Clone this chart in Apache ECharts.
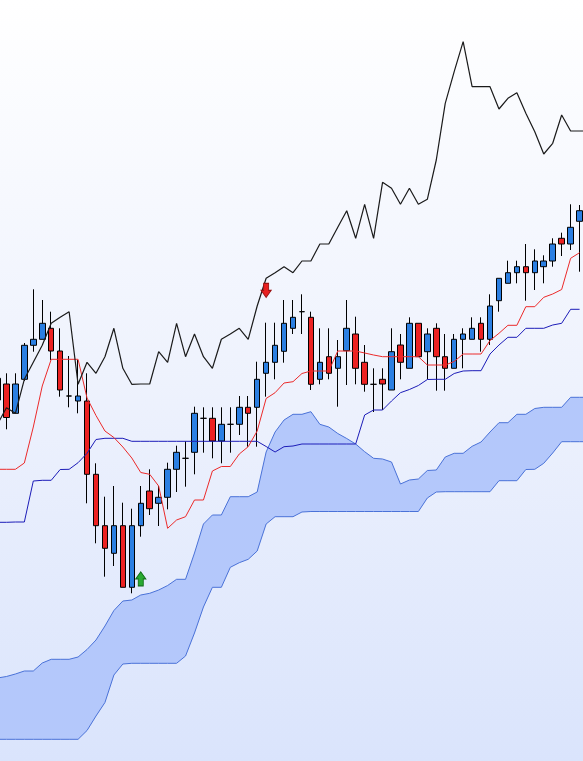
<!DOCTYPE html>
<html>
<head>
<meta charset="utf-8">
<script src="https://cdn.jsdelivr.net/npm/echarts@6/dist/echarts.min.js"></script>
<style>
html,body{margin:0;padding:0;width:583px;height:761px;overflow:hidden;position:relative;}
#c{position:absolute;left:-7px;top:0;width:600px;height:761px;}
</style>
</head>
<body>
<div id="c"></div>
<script>
// index categories (one per bar, the last one is a forward-only slot)
const categories = [];
for (let i = 0; i < 67; i++) categories.push(String(i + 1));

// [open, close, low, high]
const candles = [
[40.00,42.17,39.50,42.80],
[41.60,38.25,37.07,42.67],
[38.67,41.60,38.67,42.67],
[42.07,45.47,41.90,45.70],
[45.47,46.07,44.83,51.07],
[46.07,47.67,46.07,50.00],
[47.17,44.90,44.00,48.83],
[44.90,41.00,40.33,47.17],
[40.40,40.40,39.27,44.40],
[39.90,40.40,38.67,44.00],
[39.90,32.57,29.67,42.67],
[32.57,27.43,25.67,33.67],
[27.43,25.17,22.33,30.33],
[24.67,27.43,23.40,31.40],
[27.43,21.27,21.27,29.73],
[21.27,27.43,20.67,29.13],
[27.43,29.67,26.33,31.40],
[30.90,29.13,28.50,33.07],
[29.67,30.27,27.40,31.40],
[30.27,33.07,29.07,33.73],
[33.07,34.77,30.80,35.43],
[34.17,34.17,31.33,35.87],
[34.77,38.67,32.57,39.33],
[38.17,38.17,34.73,39.27],
[38.17,35.90,34.17,39.27],
[35.90,37.57,33.67,39.27],
[37.57,37.57,34.73,39.27],
[37.57,39.27,36.50,40.40],
[39.27,38.67,35.33,40.40],
[39.27,42.07,35.33,43.83],
[42.67,43.77,40.33,47.73],
[43.77,45.47,42.07,47.73],
[44.87,47.67,43.73,50.00],
[47.17,48.27,46.60,50.00],
[48.83,48.83,46.60,50.57],
[48.27,41.57,41.00,48.83],
[42.07,43.77,41.57,47.17],
[44.33,42.67,42.07,47.17],
[43.17,44.33,39.33,46.00],
[44.93,47.17,41.50,50.00],
[46.60,43.17,41.57,48.33],
[43.77,41.57,40.83,45.50],
[41.57,41.57,38.80,43.17],
[42.07,41.60,39.00,43.17],
[41.00,44.83,41.00,47.17],
[45.50,43.77,42.07,46.60],
[43.17,47.67,43.17,48.27],
[47.67,44.33,44.33,47.67],
[44.83,46.60,42.07,47.17],
[47.17,44.33,40.93,47.67],
[44.33,43.17,40.93,46.60],
[43.17,46.07,43.17,46.60],
[46.07,46.60,43.17,47.17],
[46.07,47.17,46.07,48.27],
[47.67,46.07,44.83,48.27],
[46.07,49.40,45.50,50.57],
[49.93,52.17,48.83,52.17],
[51.67,52.73,51.67,53.93],
[52.73,53.33,51.67,53.93],
[53.33,52.73,49.93,55.60],
[52.73,53.90,51.00,55.07],
[53.33,53.90,51.67,54.47],
[53.90,55.60,53.33,56.17],
[56.17,55.60,54.40,56.73],
[55.60,57.27,55.00,59.57],
[57.87,58.93,52.83,59.50],
'-'
];

const tenkan = [
33.07,33.07,33.07,33.70,37.30,41.40,44.07,44.07,44.07,44.07,
40.20,38.45,36.90,36.25,35.30,34.20,32.75,32.57,31.40,27.17,
28.00,28.33,30.00,30.00,32.90,33.35,33.35,34.60,35.33,36.90,
40.15,40.73,41.70,41.83,42.65,42.90,42.90,42.90,44.90,44.90,
44.90,44.70,44.50,44.33,44.33,44.33,44.33,44.33,43.50,43.50,
43.50,43.85,44.60,44.60,44.60,45.95,46.67,47.47,47.47,49.33,
49.33,50.27,50.60,51.05,54.17,54.73,null
];

const kijun = [
27.77,27.77,27.80,27.80,31.90,31.97,31.97,33.05,33.07,33.73,
34.67,36.05,36.17,36.17,36.17,35.87,35.87,35.87,35.87,35.87,
35.87,35.87,35.87,35.87,35.87,35.87,35.87,35.87,35.87,35.87,
35.35,34.80,35.33,35.40,35.60,35.60,35.60,35.60,35.60,35.60,
35.60,38.50,39.00,39.00,39.90,40.73,41.05,41.45,42.05,42.07,
42.07,42.65,42.90,42.93,42.93,44.60,45.50,46.27,46.27,47.17,
47.17,47.17,47.50,47.67,49.07,49.07,null
];

const chikou = [
37.57,39.23,38.67,42.07,43.77,45.47,47.67,48.27,48.83,41.57,
43.77,42.67,44.33,47.17,43.17,41.57,41.60,41.60,44.83,43.77,
47.67,44.33,46.60,44.33,43.17,46.07,46.60,47.17,46.07,49.40,
52.17,52.73,53.33,52.73,53.90,53.90,55.60,55.60,57.27,58.93,
56.17,59.57,56.17,61.77,61.17,59.57,61.17,59.57,60.07,64.00,
69.67,72.83,75.83,71.33,71.33,71.33,69.10,70.17,70.73,68.67,
66.83,64.60,65.67,68.50,66.90,66.90,66.90
];

const spanUpper = [
12.20,12.35,12.60,12.90,12.90,13.70,14.07,14.07,14.07,14.30,
15.05,16.00,17.40,18.95,19.90,20.00,20.50,20.67,21.00,21.45,
22.07,22.07,24.70,27.60,28.50,28.50,30.33,30.33,30.33,30.80,
34.80,36.80,38.00,38.57,38.57,38.83,37.57,37.30,36.65,36.15,
35.60,34.83,34.17,34.10,33.80,31.60,32.00,32.10,32.95,33.00,
34.30,34.67,34.67,35.37,35.80,36.80,37.73,37.73,38.57,38.57,
39.15,39.27,39.27,39.27,40.27,40.27,40.27
];

const spanLower = [
6.07,6.07,6.07,6.07,6.07,6.07,6.07,6.07,6.07,6.07,
6.95,8.40,9.75,12.50,13.60,13.67,13.67,13.67,13.67,13.67,
13.67,14.40,16.70,19.30,21.27,21.27,23.27,23.73,24.07,24.90,
27.60,28.33,28.33,28.33,28.80,28.85,28.85,28.85,28.85,28.85,
28.85,28.85,28.85,28.85,28.85,28.85,28.85,28.85,30.20,30.80,
30.83,30.83,30.83,30.83,30.83,30.83,31.93,31.93,31.93,33.05,
33.07,33.67,34.70,35.83,35.83,35.83,35.83
];

// signal arrows: [category index, price]
const buySignals = [[16, 22.12]];
const sellSignals = [[30, 50.97]];

const yMin = 3.9, yMax = 80;

// thickness of the cloud for stacking
const cloudBand = spanUpper.map((v, i) => +(v - spanLower[i]).toFixed(2));

const upArrow = 'path://M5,0 L10,7 L7.5,7 L7.5,14 L2.5,14 L2.5,7 L0,7 Z';
const downArrow = 'path://M2.5,0 L7.5,0 L7.5,7 L10,7 L5,14 L0,7 L2.5,7 Z';

const chart = echarts.init(document.getElementById('c'), null, {renderer: 'canvas'});
chart.setOption({
  animation: false,
  backgroundColor: {
    type: 'linear', x: 0, y: 0, x2: 0, y2: 1,
    colorStops: [
      {offset: 0, color: '#ffffff'},
      {offset: 0.5, color: '#eef2fd'},
      {offset: 1, color: '#dae4fc'}
    ]
  },
  grid: {left: 0, right: 0, top: 0, bottom: 0, containLabel: false},
  xAxis: {type: 'category', data: categories, show: false, boundaryGap: true},
  yAxis: {type: 'value', min: yMin, max: yMax, show: false, splitLine: {show: false}},
  series: [
    {
      name: 'Senkou Lower', type: 'line', data: spanLower, stack: 'kumo',
      symbol: 'none', z: 1,
      lineStyle: {color: '#4a72d8', width: 1}
    },
    {
      name: 'Kumo', type: 'line', data: cloudBand, stack: 'kumo',
      symbol: 'none', z: 1,
      lineStyle: {color: '#4a72d8', width: 1},
      areaStyle: {color: '#b4c8fb', opacity: 1}
    },
    {
      name: 'Price', type: 'candlestick', data: candles, barWidth: 6, z: 3,
      itemStyle: {
        color: '#2b7fe2', color0: '#ec2222',
        borderColor: '#000000', borderColor0: '#000000', borderColorDoji: '#000000',
        borderWidth: 1
      }
    },
    {
      name: 'Kijun', type: 'line', data: kijun, symbol: 'none', z: 4,
      lineStyle: {color: '#1c1cb8', width: 1}
    },
    {
      name: 'Tenkan', type: 'line', data: tenkan, symbol: 'none', z: 4,
      lineStyle: {color: '#ec2a2a', width: 1}
    },
    {
      name: 'Chikou', type: 'line', data: chikou, symbol: 'none', z: 4,
      lineStyle: {color: '#1a1a1a', width: 1.2}
    },
    {
      name: 'Buy', type: 'scatter', data: buySignals, symbol: upArrow,
      symbolSize: [10, 14], z: 5,
      itemStyle: {color: '#2aaa32', borderColor: '#0f6e16', borderWidth: 1, opacity: 1}
    },
    {
      name: 'Sell', type: 'scatter', data: sellSignals, symbol: downArrow,
      symbolSize: [10, 14], z: 5,
      itemStyle: {color: '#e82020', borderColor: '#9a1010', borderWidth: 1, opacity: 1}
    }
  ]
});
</script>
</body>
</html>
